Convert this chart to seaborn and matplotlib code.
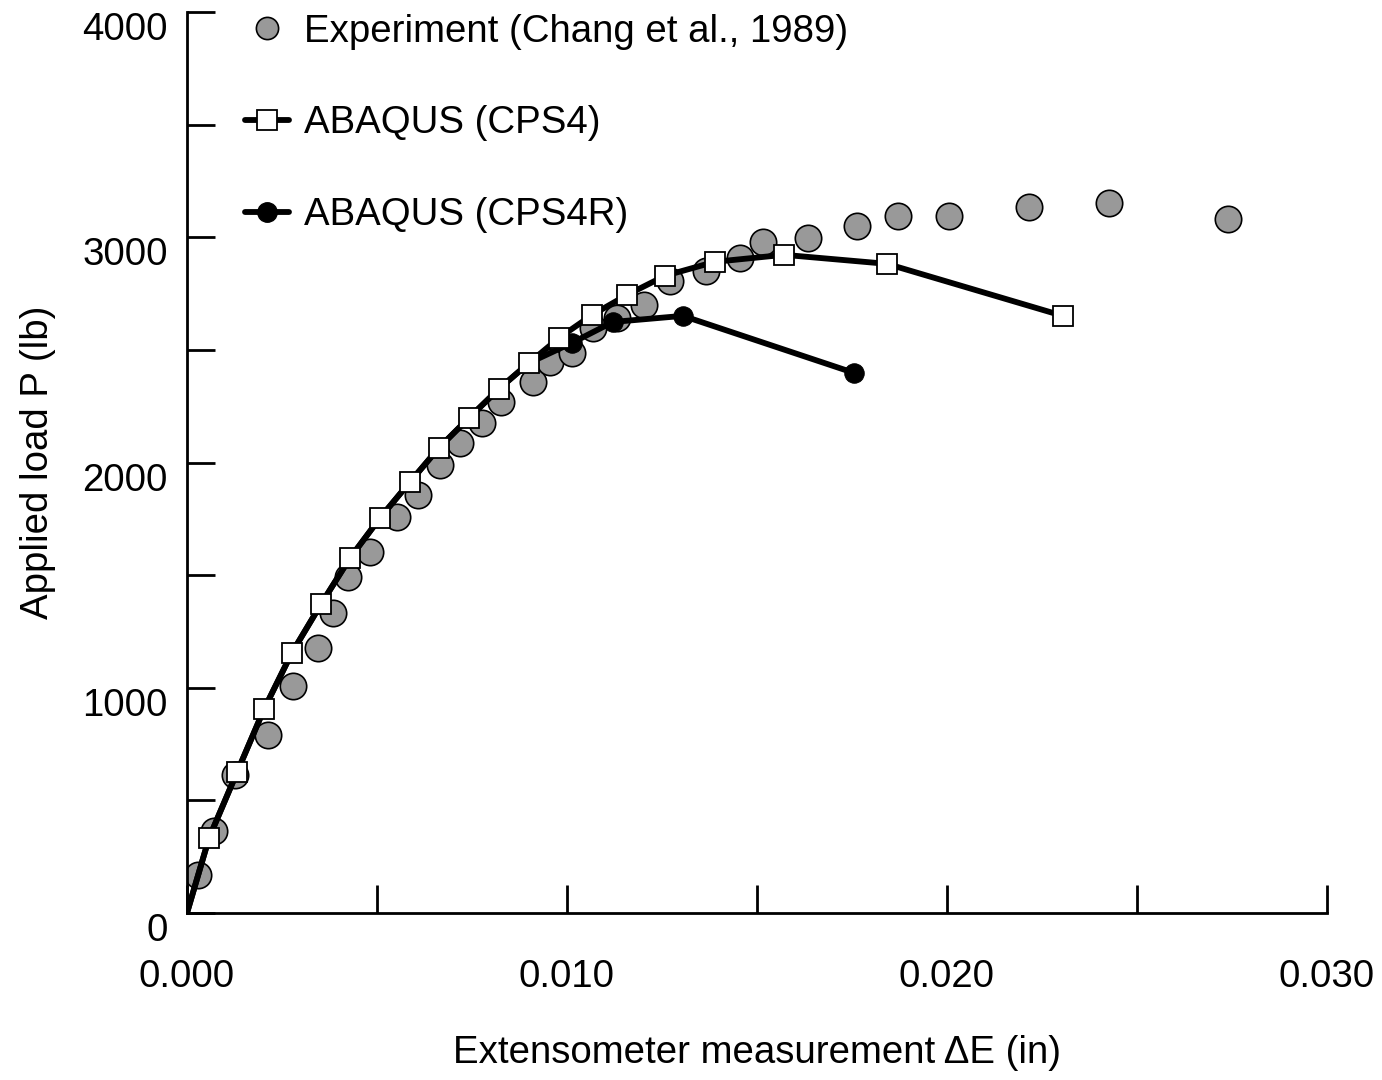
import numpy as np
import pandas as pd
import seaborn as sns
import matplotlib.pyplot as plt
from matplotlib.lines import Line2D

# experiment (Chang et al., 1989)
exp_x = [0.00029, 0.00071, 0.00126, 0.00213, 0.00279, 0.00345, 0.00384, 0.00424,
         0.00482, 0.00553, 0.00608, 0.00666, 0.00718, 0.00776, 0.00826, 0.00911,
         0.00955, 0.01013, 0.01068, 0.01132, 0.01203, 0.01271, 0.01366, 0.01455,
         0.01516, 0.01634, 0.01763, 0.01871, 0.02005, 0.02216, 0.02426, 0.02739]
exp_y = [169, 364, 613, 790, 1008, 1177, 1332, 1492,
         1603, 1758, 1856, 1989, 2087, 2176, 2269, 2358,
         2447, 2487, 2598, 2642, 2700, 2806, 2851, 2909,
         2980, 2997, 3051, 3095, 3095, 3135, 3153, 3082]

# ABAQUS CPS4
cps4_x = [0.0, 0.00058, 0.00132, 0.00203, 0.00276, 0.00353, 0.00429, 0.00508,
          0.00587, 0.00663, 0.00742, 0.00821, 0.00900, 0.00979, 0.01066, 0.01158,
          0.01258, 0.01389, 0.01571, 0.01842, 0.02305]
cps4_y = [0, 333, 626, 906, 1155, 1372, 1576, 1754,
          1914, 2065, 2198, 2327, 2442, 2553, 2655, 2744,
          2829, 2891, 2922, 2882, 2651]

# ABAQUS CPS4R
cps4r_x = [0.0, 0.00058, 0.00132, 0.00203, 0.00276, 0.00353, 0.00429, 0.00508,
           0.00587, 0.00663, 0.00742, 0.00821, 0.00900, 0.01013, 0.01121, 0.01305,
           0.01755]
cps4r_y = [0, 333, 626, 906, 1155, 1372, 1576, 1754,
           1914, 2065, 2198, 2327, 2442, 2531, 2624, 2651,
           2398]

labels = ['Experiment (Chang et al., 1989)', 'ABAQUS (CPS4)', 'ABAQUS (CPS4R)']

sns.set_style('ticks')
plt.rcParams['font.family'] = ['Liberation Sans', 'DejaVu Sans']
plt.rcParams['text.color'] = 'black'
plt.rcParams['axes.labelcolor'] = 'black'
FS = 27.6
LW = 4.2

fig = plt.figure(figsize=(13.82, 10.8), dpi=100)
ax = fig.add_axes([0.1353, 0.1546, 0.8249, 0.8343])

sns.scatterplot(x=exp_x, y=exp_y, ax=ax, s=19 ** 2, color='#999999',
                edgecolor='black', linewidth=1.2, zorder=1)

sns.lineplot(x=cps4r_x, y=cps4r_y, ax=ax, color='black', linewidth=LW,
             marker='o', markersize=14, markerfacecolor='black',
             markeredgecolor='black', markevery=[13, 14, 15, 16], zorder=2)

sns.lineplot(x=cps4_x, y=cps4_y, ax=ax, color='black', linewidth=LW,
             marker='s', markersize=14, markerfacecolor='white',
             markeredgecolor='black', markeredgewidth=1.3,
             markevery=list(range(1, len(cps4_x))), zorder=3)

ax.set_xlim(0, 0.030)
ax.set_ylim(0, 4000)
ax.set_xticks(np.arange(0, 0.0301, 0.005))
ax.set_xticklabels(['0.000', '', '0.010', '', '0.020', '', '0.030'])
ax.set_yticks(np.arange(0, 4001, 500))
ax.set_yticklabels(['0', '', '1000', '', '2000', '', '3000', '', '4000'])
ax.tick_params(direction='in', length=20, width=2, labelsize=FS,
               colors='black', labelcolor='black')
ax.tick_params(axis='x', pad=33)
ax.tick_params(axis='y', pad=14)
for lab in ax.get_yticklabels():
    lab.set_va('top')

for s in ['top', 'right']:
    ax.spines[s].set_visible(False)
for s in ['left', 'bottom']:
    ax.spines[s].set_linewidth(2)
    ax.spines[s].set_color('black')

ax.set_xlabel('Extensometer measurement \u0394E (in)', fontsize=FS, labelpad=29)
ax.set_ylabel('Applied load P (lb)', fontsize=FS, labelpad=19)

handles = [
    Line2D([], [], linestyle='none', marker='o', markersize=16,
           markerfacecolor='#999999', markeredgecolor='black', markeredgewidth=1.2),
    Line2D([], [], color='black', linewidth=LW, marker='s', markersize=14,
           markerfacecolor='white', markeredgecolor='black', markeredgewidth=1.3),
    Line2D([], [], color='black', linewidth=LW, marker='o', markersize=14,
           markerfacecolor='black', markeredgecolor='black'),
]
leg = ax.legend(handles, labels, loc='upper left', bbox_to_anchor=(0.051, 0.998),
                frameon=False, fontsize=FS, handlelength=1.15, handletextpad=0.38,
                labelspacing=1.45, borderpad=0, borderaxespad=0)
for t in leg.get_texts():
    t.set_color('black')

fig.savefig('out.png', dpi=100)
plt.close(fig)
